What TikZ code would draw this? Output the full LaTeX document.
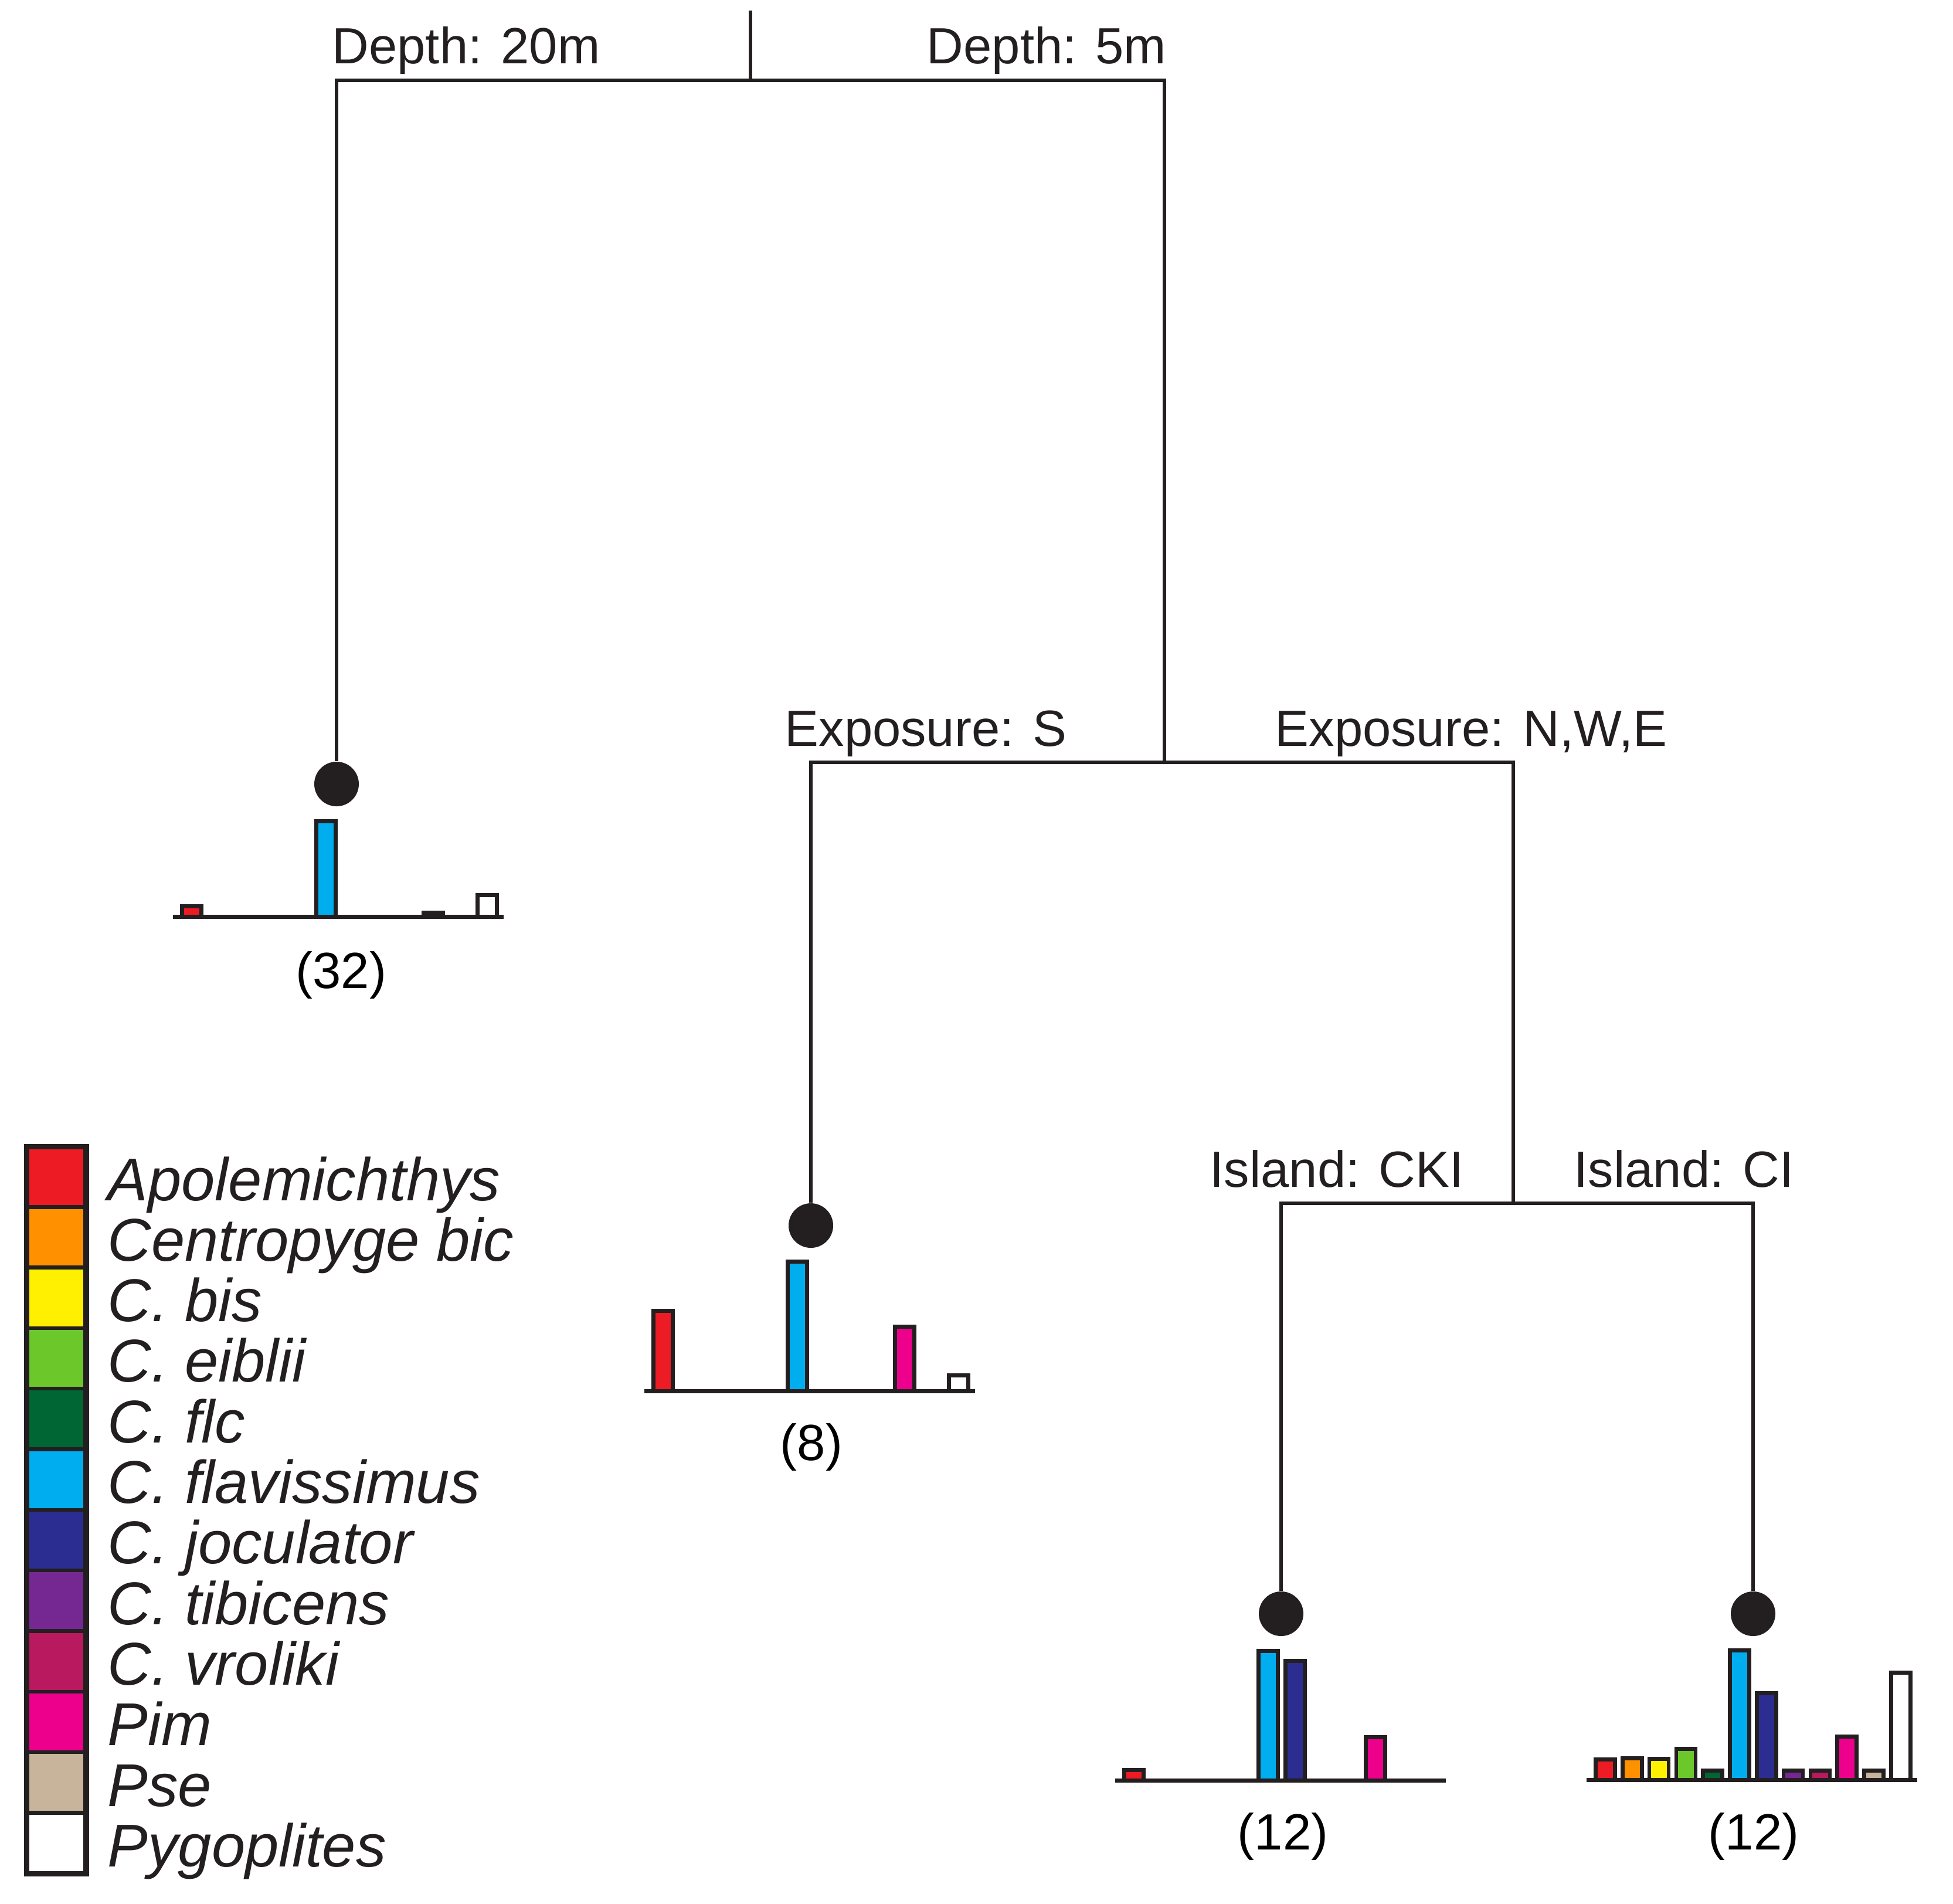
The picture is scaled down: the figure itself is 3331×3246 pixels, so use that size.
\documentclass[tikz,border=0pt]{standalone}
\usepackage{fontspec}
\setmainfont{Liberation Sans}
\definecolor{capo}{RGB}{237,28,36}
\definecolor{ccen}{RGB}{255,145,0}
\definecolor{cbis}{RGB}{255,239,0}
\definecolor{ceib}{RGB}{108,199,42}
\definecolor{cflc}{RGB}{0,102,51}
\definecolor{cfla}{RGB}{0,174,239}
\definecolor{cjoc}{RGB}{43,45,145}
\definecolor{ctib}{RGB}{118,40,146}
\definecolor{cvro}{RGB}{185,25,95}
\definecolor{cpim}{RGB}{236,0,140}
\definecolor{cpse}{RGB}{200,180,154}
\definecolor{cpyg}{RGB}{255,255,255}
\definecolor{ink}{RGB}{35,31,32}
\newcommand\chartbar[3]{\draw[barline, fill=#1] ({#2*45.8+3.5},0) rectangle ({#2*45.8+36.5},{3.5-#3});}
\begin{document}
\begin{tikzpicture}[x=0.1mm,y=-0.1mm,
  branch/.style={draw=ink, line width=0.68mm},
  leafdot/.style={circle, fill=ink, inner sep=0, minimum size=7.6mm},
  lbl/.style={inner sep=0, text=ink, font=\fontsize{24.7}{28}\selectfont},
  cnt/.style={inner sep=0, anchor=base, text=black, font=\fontsize{24.7}{28}\selectfont},
  legtxt/.style={inner sep=0, anchor=base west, text=ink, font=\fontsize{29.3}{33}\selectfont\itshape},
  legcell/.style={draw=ink, line width=0.65mm},
  barline/.style={draw=ink, line width=0.65mm},
  baseln/.style={draw=ink, line width=0.7mm}]
\useasboundingbox[fill=white] (0,0) rectangle (3331,3246);

% tree
\coordinate (top) at (1280,18);
\coordinate (r) at (1280,137);
\coordinate (rl) at (574,137);
\coordinate (rr) at (1986,137);
\node[leafdot] (d1) at (574,1337) {};
\coordinate (e) at (1986,1300);
\coordinate (el) at (1383,1300);
\coordinate (er) at (2581,1300);
\node[leafdot] (d2) at (1383,2090) {};
\coordinate (i) at (2581,2052);
\coordinate (il) at (2185,2052);
\coordinate (ir) at (2990,2052);
\node[leafdot] (d3) at (2185,2752) {};
\node[leafdot] (d4) at (2990,2752) {};

\draw[branch] (top) -- (r);
\draw[branch] (d1) -- (rl) -- (rr) -- (e);
\draw[branch] (d2) -- (el) -- (er) -- (i);
\draw[branch] (d3) -- (il) -- (ir) -- (d4);

% split labels
\node[lbl, anchor=base west] (t1) at (566,108) {Depth: 20m};
\node[lbl, anchor=base east] (t2) at (1990,108) {Depth: 5m};
\node[lbl, anchor=base west] (t3) at (1338,1272) {Exposure: S};
\node[lbl, anchor=base west] (t4) at (2174,1272) {Exposure: N,W,E};
\node[lbl, anchor=base west] (t5) at (2063,2024) {Island: CKI};
\node[lbl, anchor=base west] (t6) at (2684,2024) {Island: CI};

% counts
\node[cnt] (n1) at (582,1685) {(32)};
\node[cnt] (n2) at (1384,2490) {(8)};
\node[cnt] (n3) at (2188,3154) {(12)};
\node[cnt] (n4) at (2991,3154) {(12)};

% chart 1
\begin{scope}[shift={(307,1563)}]
\chartbar{capo}{0}{21}
\chartbar{cfla}{5}{166}
\chartbar{cpim}{9}{10}
\chartbar{cpyg}{11}{40}
\draw[baseln] (-12,0) -- (552,0);
\end{scope}

% chart 2
\begin{scope}[shift={(1111,2372)}]
\chartbar{capo}{0}{140}
\chartbar{cfla}{5}{224}
\chartbar{cpim}{9}{113}
\chartbar{cpyg}{11}{30}
\draw[baseln] (-12,0) -- (552,0);
\end{scope}

% chart 3
\begin{scope}[shift={(1914,3036)}]
\chartbar{capo}{0}{21}
\chartbar{cfla}{5}{224}
\chartbar{cjoc}{6}{207}
\chartbar{cpim}{9}{77}
\draw[baseln] (-12,0) -- (552,0);
\end{scope}

% chart 4
\begin{scope}[shift={(2718,3035)}]
\chartbar{capo}{0}{38}
\chartbar{ccen}{1}{40}
\chartbar{cbis}{2}{39}
\chartbar{ceib}{3}{56}
\chartbar{cflc}{4}{19}
\chartbar{cfla}{5}{224}
\chartbar{cjoc}{6}{151}
\chartbar{ctib}{7}{19}
\chartbar{cvro}{8}{19}
\chartbar{cpim}{9}{77}
\chartbar{cpse}{10}{19}
\chartbar{cpyg}{11}{186}
\draw[baseln] (-12,0) -- (552,0);
\end{scope}

% legend
\foreach \c/\t [count=\k from 0] in {capo/Apolemichthys, ccen/Centropyge bic, cbis/C. bis, ceib/C. eiblii, cflc/C. flc, cfla/C. flavissimus, cjoc/C. joculator, ctib/C. tibicens, cvro/C. vroliki, cpim/Pim, cpse/Pse, cpyg/Pygoplites}{
  \draw[legcell, fill=\c] (47,{1955+\k*103.3}) rectangle (145,{1955+(\k+1)*103.3});
  \node[legtxt] (leg\k) at (183,{1955+\k*103.3+92}) {\t};
}
\draw[draw=ink, line width=0.9mm] (45,1955) rectangle (147,3195);
\end{tikzpicture}
\end{document}
